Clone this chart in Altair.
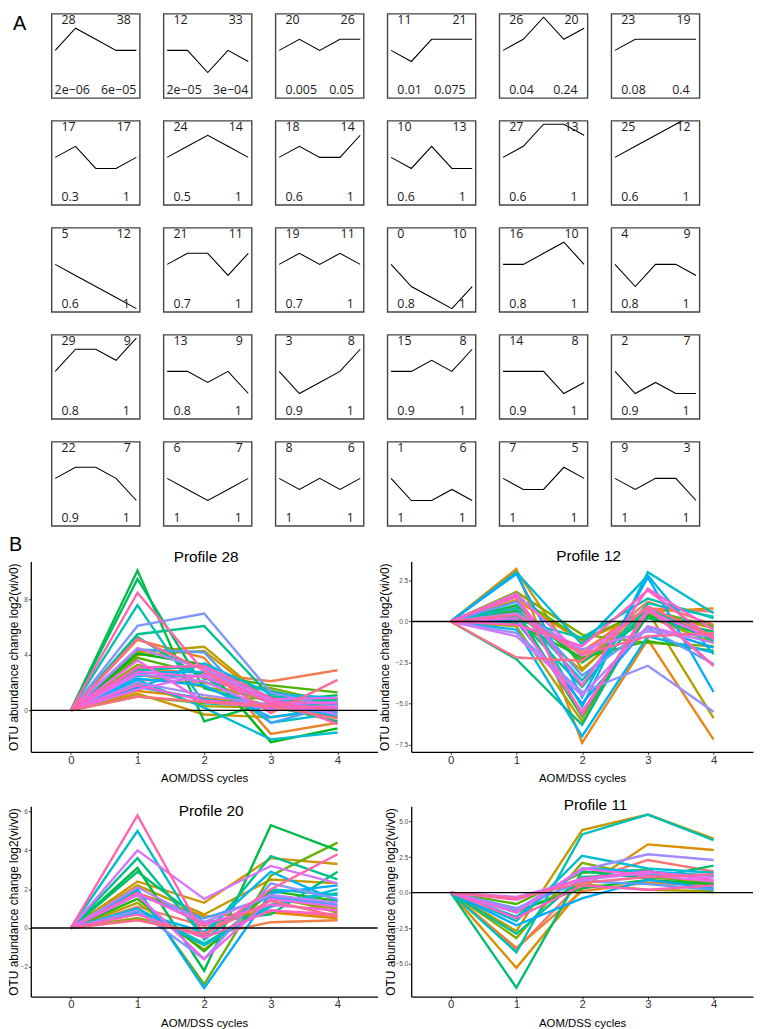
import math
import altair as alt
import pandas as pd

# ---------------- Panel A data (STEM model profiles) ----------------
A_ids = [28, 12, 20, 11, 26, 23,
         17, 24, 18, 10, 27, 25,
         5, 21, 19, 0, 16, 4,
         29, 13, 3, 15, 14, 2,
         22, 6, 8, 1, 7, 9]
A_counts = [38, 33, 26, 21, 20, 19,
            17, 14, 14, 13, 13, 12,
            12, 11, 11, 10, 10, 9,
            9, 9, 8, 8, 8, 7,
            7, 7, 6, 6, 5, 3]
A_p_left = ["2e\u221206", "2e\u221205", "0.005", "0.01", "0.04", "0.08",
            "0.3", "0.5", "0.6", "0.6", "0.6", "0.6",
            "0.6", "0.7", "0.7", "0.8", "0.8", "0.8",
            "0.8", "0.8", "0.9", "0.9", "0.9", "0.9",
            "0.9", "1", "1", "1", "1", "1"]
A_p_right = ["6e\u221205", "3e\u221204", "0.05", "0.075", "0.24", "0.4"] + ["1"] * 24
A_profiles = [
    [0, 2, 1, 0, 0], [0, 0, -2, 0, -1], [0, 1, 0, 1, 1], [0, -1, 1, 1, 1], [0, 1, 3, 1, 2], [0, 1, 1, 1, 1],
    [0, 1, -1, -1, 0], [0, 1, 2, 1, 0], [0, 1, 0, 0, 2], [0, -1, 1, -1, -1], [0, 1, 3, 3, 2], [0, 1, 2, 3, 4],
    [0, -1, -2, -3, -4], [0, 1, 1, -1, 1], [0, 1, 0, 1, 0], [0, -2, -3, -4, -2], [0, 0, 1, 2, 0], [0, -2, 0, 0, -1],
    [0, 2, 2, 1, 3], [0, 0, -1, 0, -2], [0, -2, -1, 0, 2], [0, 0, 1, 0, 2], [0, 0, 0, -2, -1], [0, -2, -1, -2, -2],
    [0, 1, 1, 0, -2], [0, -1, -2, -1, 0], [0, -1, 0, -1, 0], [0, -2, -2, -1, -2], [0, -1, -1, 1, 0], [0, -1, 0, 0, -2],
]

# ---------------- Panel B data (log2 fold change per OTU, cycles 0..4) ----------------
P28_rows = [
    [0, 2.2, 2.0, 0.6, 0.3], [0, 3.0, 2.7, 2.1, 2.9], [0, 5.1, 3.8, -1.7, -0.9], [0, 1.4, 0.9, 0.4, 0.2],
    [0, 4.0, 4.3, 0.5, -0.5], [0, 1.2, -0.3, -0.5, 0.1], [0, 4.2, 4.6, 0.6, 0.3], [0, 1.9, 0.3, 0.2, 0.6],
    [0, 2.6, 1.7, 0.8, 0.4], [0, 3.3, 2.0, 1.6, 0.5], [0, 1.0, 0.5, 1.0, 0.8], [0, 3.8, 2.6, 1.8, 1.3],
    [0, 4.1, 3.3, -2.3, -1.3], [0, 10.1, -0.8, 0.6, 1.1], [0, 9.5, 1.6, 0.3, -0.8], [0, 5.3, 2.3, 1.4, 0.4],
    [0, 5.5, 6.1, 1.0, 0.7], [0, 2.9, 3.2, 0.9, 0.0], [0, 7.6, 0.5, 0.3, 0.5], [0, 2.5, 2.5, -0.9, -0.2],
    [0, 2.2, 0.2, -2.1, -1.6], [0, 1.6, 3.4, 1.2, 0.9], [0, 2.7, 2.8, 0.5, -0.4], [0, 2.3, 1.8, -0.5, 0.2],
    [0, 1.7, 0.8, 0.1, -0.1], [0, 4.4, 4.2, -0.9, 0.4], [0, 6.1, 7.0, 1.3, 0.2], [0, 2.0, 1.1, 0.4, 0.6],
    [0, 4.5, 3.0, 0.7, -0.3], [0, 2.6, 2.1, 0.0, 0.3], [0, 1.5, 2.6, 0.8, 0.9], [0, 3.6, 0.6, 0.2, 0.0],
    [0, 2.8, 2.4, 0.6, 0.5], [0, 1.8, 0.7, 0.4, 0.2], [0, 3.1, 3.2, 0.9, -1.0], [0, 8.5, 2.8, 0.5, 0.0],
    [0, 5.2, 2.9, -0.2, 2.2], [0, 1.0, 0.6, 0.3, -0.6],
]
P12_rows = [
    [0, 0.4, -1.8, 0.8, 0.6], [0, 0.9, -2.0, 1.2, -0.2], [0, 3.2, -7.4, -1.1, -7.2], [0, 1.3, -1.2, 0.6, 0.8],
    [0, 3.1, -2.9, 0.5, -0.4], [0, 0.2, -3.0, 0.9, -1.0], [0, -0.3, -6.1, 0.6, -5.9], [0, 0.7, -2.3, 0.3, -1.3],
    [0, 1.8, -0.8, -1.3, -1.5], [0, 1.5, -1.1, 0.7, -0.3], [0, -0.1, -2.2, -1.2, -1.8], [0, 0.6, -5.8, 0.4, -1.1],
    [0, 1.0, -2.5, 0.2, -0.6], [0, -2.3, -6.3, 0.8, -0.8], [0, 0.3, -4.0, 0.9, -1.2], [0, 0.1, -1.0, 1.4, 0.2],
    [0, 0.8, -3.6, 1.1, 0.3], [0, 1.6, -5.2, 3.0, 0.5], [0, 3.0, -1.4, 2.8, -2.0], [0, -0.5, -7.0, -0.9, -1.9],
    [0, 2.9, -4.6, 2.7, -4.3], [0, 0.0, -5.0, -0.3, -1.6], [0, 1.2, -3.3, -0.4, -2.6], [0, -0.7, -4.3, -2.7, -5.5],
    [0, 0.5, -1.7, -0.6, -0.9], [0, -0.9, -4.5, -0.3, -1.3], [0, 1.7, -2.1, 0.9, -2.7], [0, 0.2, -5.5, 0.6, -1.0],
    [0, 1.5, -3.9, 2.0, -0.5], [0, -0.2, -1.5, 1.9, -1.1], [0, 1.6, -5.7, 0.8, -2.7], [0, 0.4, -2.0, -0.9, -0.7],
    [0, -2.2, -2.4, 0.9, -0.9],
]
P20_rows = [
    [0, 1.1, 0.1, 0.9, 0.6], [0, 0.5, -0.4, 0.3, 0.4], [0, 1.8, 0.6, 0.8, 0.5], [0, 2.4, 1.3, 3.6, 3.3],
    [0, 2.2, 0.7, 2.5, 2.3], [0, 1.3, -1.1, 1.5, 1.0], [0, 0.5, -0.3, 1.7, 0.8], [0, 1.9, -2.9, 2.7, 4.4],
    [0, 1.5, -1.2, 1.9, 1.4], [0, 3.1, -2.2, 5.3, 4.0], [0, 2.9, 0.3, 0.7, 2.9], [0, 3.6, -0.5, 3.7, 2.5],
    [0, 1.0, -0.8, 1.2, 1.8], [0, 5.0, -0.6, 2.0, 1.7], [0, 1.0, -0.9, 1.1, 2.0], [0, 0.8, -0.2, 2.9, 1.4],
    [0, 2.0, -3.1, 1.8, 2.2], [0, 1.7, 0.5, 1.6, 1.2], [0, 0.9, -1.6, 2.3, 1.5], [0, 2.1, 0.3, 1.7, 1.3],
    [0, 4.0, 1.5, 3.2, 2.3], [0, 1.7, -1.6, 1.5, 1.1], [0, 1.8, 0.2, 1.2, 0.9], [0, 0.7, -0.5, 0.9, 0.7],
    [0, 5.8, -0.4, 2.0, 3.8], [0, 0.4, -0.3, 1.4, 0.6],
]
P11_rows = [
    [0, -4.0, 0.8, 2.3, 1.5], [0, -3.9, 0.1, 0.7, 0.5], [0, -5.3, 0.3, 3.4, 3.0], [0, -2.7, 4.4, 5.5, 3.8],
    [0, -1.4, 0.6, 0.2, 0.1], [0, -3.2, 2.1, 1.1, 0.7], [0, -0.8, 1.4, 1.6, 0.0], [0, -1.3, 0.3, 0.9, 0.6],
    [0, -6.7, 1.5, 1.0, 1.9], [0, -2.9, 1.1, 1.3, 1.2], [0, -4.2, 4.1, 5.5, 3.7], [0, -2.0, 2.6, 1.7, 1.4],
    [0, -1.7, 1.7, 1.5, 1.2], [0, -2.3, -0.4, 0.9, 0.3], [0, -1.1, 0.8, 0.6, 0.2], [0, -1.2, 1.6, 2.7, 2.3],
    [0, -0.3, 0.9, 1.4, 1.1], [0, -1.4, 1.7, 1.2, 0.8], [0, -0.5, 1.0, 1.5, 0.9], [0, -1.8, 0.5, 0.2, 0.5],
    [0, -0.4, 0.7, 1.1, 1.3],
]

FONT_A = "Open Sans"
FONT_B = "Liberation Sans"


def hcl_hex(h, c=100.0, l=65.0):
    hr = math.radians(h)
    U, V = c * math.cos(hr), c * math.sin(hr)
    Xn, Yn, Zn = 95.047, 100.0, 108.883
    Y = Yn * ((l + 16.0) / 116.0) ** 3 if l > 8 else Yn * l / 903.3
    den = Xn + 15 * Yn + 3 * Zn
    up = U / (13 * l) + 4 * Xn / den
    vp = V / (13 * l) + 9 * Yn / den
    X = 9.0 * Y * up / (4 * vp)
    Z = 3 * Y / vp - X / 3.0 - 5 * Y
    X, Y, Z = X / 100, Y / 100, Z / 100
    rgb = [3.240479 * X - 1.537150 * Y - 0.498535 * Z,
           -0.969256 * X + 1.875992 * Y + 0.041556 * Z,
           0.055648 * X - 0.204043 * Y + 1.057311 * Z]
    out = []
    for u in rgb:
        u = 12.92 * u if u <= 0.0031308 else 1.055 * u ** (1 / 2.4) - 0.055
        out.append(int(round(min(1, max(0, u)) * 255)))
    return "#%02x%02x%02x" % tuple(out)


def hue_pal(n):
    return [hcl_hex(15 + 360.0 * i / n) for i in range(n)]


# ---------------- Panel A: one small chart per profile ----------------
def a_cell(pid, cnt, pl, pr, prof):
    df_line = pd.DataFrame({"t": list(range(5)), "v": prof})
    df_lab = pd.DataFrame({"pid": [str(pid)], "cnt": [str(cnt)], "pl": [pl], "pr": [pr]})
    line = alt.Chart(df_line).mark_line(color="black", strokeWidth=1.1, clip=True).encode(
        x=alt.X("t:Q", scale=alt.Scale(domain=[-0.18, 4.17], nice=False, zero=False), axis=None),
        y=alt.Y("v:Q", scale=alt.Scale(domain=[-4.3, 3.31], nice=False, zero=False), axis=None),
    )
    base = alt.Chart(df_lab)
    style = dict(font=FONT_A, fontSize=12.5, baseline="alphabetic", color="#1a1a1a")
    long_l = "e" in pl
    long_r = "e" in pr
    t1 = base.mark_text(align="left", **style).encode(
        text="pid:N", x=alt.value(10), y=alt.value(10.5))
    t2 = base.mark_text(align="right", **style).encode(
        text="cnt:N", x=alt.value(80), y=alt.value(10.5))
    t3 = base.mark_text(align="left", **style).encode(
        text="pl:N", x=alt.value(3 if long_l else 10), y=alt.value(81))
    t4 = base.mark_text(align="right", **style).encode(
        text="pr:N", x=alt.value(85.5 if long_r else 79), y=alt.value(81))
    return alt.layer(line, t1, t2, t3, t4).properties(width=89, height=85)


cells = [a_cell(*args) for args in zip(A_ids, A_counts, A_p_left, A_p_right, A_profiles)]
gridA = alt.concat(*cells, columns=6, spacing={"row": 23, "column": 24}, bounds="flush")

spacer = alt.Chart(pd.DataFrame({"s": ["A"]})).mark_text(
    font=FONT_B, fontSize=20, align="left", baseline="top", color="black").encode(
    text="s:N", x=alt.value(-18), y=alt.value(0)).properties(
    width=1, height=1, view=alt.ViewBackground(strokeOpacity=0))

rowA = alt.hconcat(spacer, gridA, spacing=20, bounds="flush")


# ---------------- Panel B ----------------
def b_panel(tag, rows, ydom, yticks, yfmt, title, tx, ty, w, h, title_x, with_b=False):
    n = len(rows)
    names = [f"{tag}_{i:02d}" for i in range(n)]
    df = pd.DataFrame([{"otu": names[i], "t": t, "v": rows[i][t]} for i in range(n) for t in range(5)])
    xaxis = alt.Axis(values=[0, 1, 2, 3, 4], format="d", title="AOM/DSS cycles", grid=False,
                     domainColor="black", domainWidth=1.3, tickColor="#333333", tickSize=2.5,
                     labelFont=FONT_B, labelFontSize=11.5, labelColor="#333333", labelPadding=0,
                     labelFlush=False, titleFont=FONT_B, titleFontSize=11.5, titleFontWeight="normal",
                     titleColor="black", titlePadding=7)
    yaxis = alt.Axis(values=yticks, format=yfmt, title="OTU abundance change log2(vi/v0)", grid=False,
                     domainColor="black", domainWidth=1.3, tickColor="#333333", tickSize=2.5,
                     labelFont=FONT_B, labelFontSize=6.5, labelColor="#4d4d4d", labelPadding=1,
                     labelFlush=False, labelOverlap=False, titleFont=FONT_B, titleFontSize=12,
                     titleFontWeight="normal", titleColor="black", titleX=title_x, titleBaseline="bottom")
    lines = alt.Chart(df).mark_line(strokeWidth=2.4, clip=True).encode(
        x=alt.X("t:Q", scale=alt.Scale(domain=[-0.6, 4.6], nice=False, zero=False), axis=xaxis),
        y=alt.Y("v:Q", scale=alt.Scale(domain=ydom, nice=False, zero=False), axis=yaxis),
        color=alt.Color("otu:N", scale=alt.Scale(domain=names, range=hue_pal(n)), legend=None),
    )
    zero = alt.Chart(pd.DataFrame({"v": [0.0]})).mark_rule(color="black", strokeWidth=1.4).encode(
        y=alt.Y("v:Q"))
    ttl = alt.Chart(pd.DataFrame({"s": [title]})).mark_text(
        font=FONT_B, fontSize=15.5, align="center", baseline="middle", color="black").encode(
        text="s:N", x=alt.value(tx), y=alt.value(ty))
    layers = [lines, zero, ttl]
    if with_b:
        layers.append(alt.Chart(pd.DataFrame({"s": ["B"]})).mark_text(
            font=FONT_B, fontSize=20, align="left", baseline="top", color="black").encode(
            text="s:N", x=alt.value(-22), y=alt.value(-27)))
    return alt.layer(*layers).properties(width=w, height=h, view=alt.ViewBackground(strokeOpacity=0))


p28 = b_panel("p28", P28_rows, [-3.0, 10.75], [0, 4, 8], "d", "Profile 28", 177, -5, 350, 192, -10, True)
p12 = b_panel("p12", P12_rows, [-7.95, 3.65], [-7.5, -5, -2.5, 0, 2.5], ".1f", "Profile 12", 179, -6, 345, 192, -20)
p20 = b_panel("p20", P20_rows, [-3.53, 6.27], [-2, 0, 2, 4, 6], "d", "Profile 20", 182, 5, 350, 192, -10)
p11 = b_panel("p11", P11_rows, [-7.32, 6.08], [-5, -2.5, 0, 2.5, 5], ".1f", "Profile 11", 186, -1, 345, 192, -14)

rowB1 = alt.hconcat(p28, p12, spacing=0).resolve_scale(color="independent")
rowB2 = alt.hconcat(p20, p11, spacing=6).resolve_scale(color="independent")
panelB = alt.vconcat(rowB1, rowB2, spacing=14).resolve_scale(color="independent")

chart = alt.vconcat(rowA, panelB, spacing=8).resolve_scale(
    color="independent").properties(padding=0).configure_view(
    stroke="#444444", strokeWidth=1.4)

chart.save("out.html", embed_options={"renderer": "svg", "actions": False})
